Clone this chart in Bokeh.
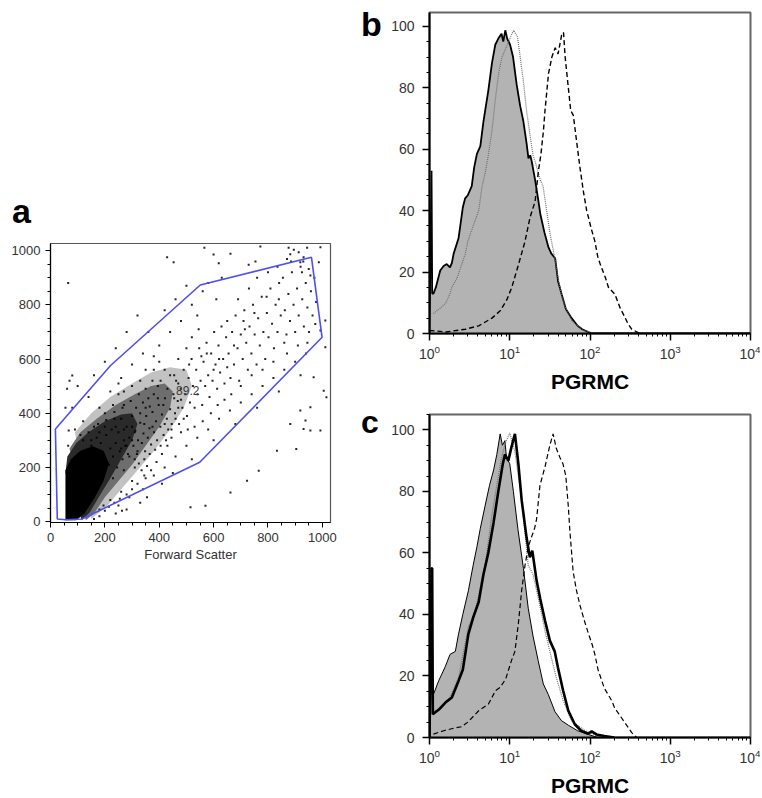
from bokeh.plotting import figure
from bokeh.layouts import row, column
from bokeh.models import Range1d, SingleIntervalTicker, FixedTicker, Label, Div
from bokeh.embed import file_html
from bokeh.resources import INLINE

FONT = "Liberation Sans"

# ---------------- Panel a: Forward scatter vs side scatter ----------------
a_tick_step = 200
gate_x = [18, 25, 55, 116, 549, 999, 960, 551, 221, 18]
gate_y = [342, 10, 7, 10, 219, 680, 975, 873, 576, 342]
gate_label = "89.2"
gate_label_pos = (505, 484)

# dense population (read as density outlines, darkest last)
light_x = [90, 150, 220, 300, 370, 440, 500, 520, 490, 440, 380, 320, 260, 210, 150]
light_y = [330, 400, 460, 510, 550, 570, 560, 500, 420, 340, 260, 190, 120, 60, 10]
mid_x = [70, 110, 170, 240, 310, 370, 420, 450, 440, 400, 350, 300, 250, 200, 160, 130]
mid_y = [270, 330, 380, 430, 470, 500, 510, 480, 420, 350, 280, 210, 150, 90, 30, 5]
dark_x = [55, 62, 95, 140, 200, 260, 300, 320, 300, 260, 220, 180, 145, 115]
dark_y = [180, 240, 290, 330, 370, 395, 400, 360, 300, 230, 160, 95, 35, 5]
core_x = [55, 55, 75, 110, 155, 195, 215, 195, 160, 125, 95]
core_y = [5, 190, 230, 262, 278, 262, 215, 150, 85, 30, 5]

pts_outside = [(65, 880), (429, 975), (453, 957), (566, 1010), (600, 985), (662, 988), (619, 953),
               (772, 1015), (876, 1010), (895, 1003), (913, 994), (882, 986), (944, 1010), (993, 1012),
               (729, 948), (754, 960), (870, 969), (919, 957), (931, 975), (987, 957), (950, 932),
               (956, 908), (925, 920), (974, 729), (993, 705), (1011, 742), (1011, 643), (1005, 483),
               (1015, 459), (968, 533), (956, 422), (938, 373), (931, 342), (904, 268), (993, 336),
               (956, 336), (263, 40), (355, 90), (515, 53), (570, 59), (662, 108), (723, 151),
               (766, 188), (833, 262), (882, 360), (919, 410), (80, 539), (61, 490), (67, 336)]
pts_band = [(305, 280), (312, 335), (318, 250), (322, 300), (330, 365), (336, 290), (342, 325),
            (348, 260), (352, 390), (358, 310), (364, 345), (370, 285), (375, 405), (381, 330),
            (388, 370), (392, 300), (398, 430), (404, 350), (410, 395), (416, 320), (421, 455),
            (428, 380), (433, 340), (440, 415), (446, 360), (452, 470), (300, 390), (315, 420),
            (340, 440), (360, 455), (380, 470), (395, 500), (325, 215), (345, 230), (365, 250),
            (385, 265), (405, 280), (425, 300), (445, 310), (280, 350), (270, 300), (290, 240),
            (310, 200), (260, 380), (335, 190), (355, 205)]
pts_mid = [(458, 400), (462, 520), (468, 445), (473, 360), (479, 490), (485, 420), (490, 560),
           (496, 470), (502, 390), (508, 530), (513, 440), (519, 600), (524, 500), (530, 420),
           (536, 560), (541, 470), (547, 640), (552, 520), (558, 430), (563, 590), (569, 500),
           (574, 660), (580, 540), (585, 460), (591, 620), (596, 520), (602, 700), (607, 580),
           (613, 490), (618, 650), (624, 550), (629, 720), (635, 600), (640, 510), (646, 680),
           (470, 600), (500, 640), (520, 680), (545, 710), (560, 370), (590, 400), (615, 430),
           (640, 450), (480, 330), (505, 340), (530, 350), (455, 540), (510, 580), (555, 610),
           (600, 560), (620, 600), (575, 620), (650, 570), (650, 740)]
pts_upper = [(655, 620), (662, 530), (668, 700), (675, 580), (681, 760), (688, 640), (694, 520),
             (700, 690), (707, 600), (713, 780), (720, 660), (726, 560), (732, 720), (739, 620),
             (745, 800), (751, 690), (758, 580), (764, 750), (770, 650), (777, 830), (783, 700),
             (790, 600), (796, 770), (802, 680), (809, 860), (815, 730), (822, 640), (828, 800),
             (835, 700), (841, 880), (847, 760), (665, 470), (700, 500), (740, 540), (780, 560),
             (820, 590), (690, 820), (730, 860), (760, 900), (800, 920), (835, 940), (710, 740),
             (750, 770), (795, 830), (840, 820), (860, 660), (675, 650), (715, 710)]
pts_far = [(855, 900), (862, 780), (868, 690), (875, 840), (881, 740), (888, 920), (894, 800),
           (900, 700), (907, 860), (913, 760), (920, 940), (926, 820), (932, 720), (939, 880),
           (945, 790), (951, 700), (958, 850), (964, 760), (971, 900), (977, 810), (870, 620),
           (910, 650), (945, 660), (885, 960), (930, 960)]
pts_left = [(80, 420), (100, 500), (120, 370), (140, 460), (160, 540), (180, 420), (200, 590),
            (220, 480), (240, 640), (260, 530), (280, 700), (300, 580), (320, 760), (340, 620),
            (360, 700), (380, 560), (400, 650), (420, 780), (440, 700), (460, 820), (480, 740),
            (500, 870), (520, 800), (540, 760), (560, 850), (580, 880), (610, 820), (630, 900),
            (160, 350), (200, 400), (230, 430), (250, 470), (270, 430), (150, 300), (110, 320),
            (90, 340), (65, 280), (55, 420), (70, 520)]
pts_lower = [(220, 80), (260, 110), (300, 150), (340, 120), (380, 170), (420, 200), (460, 240),
             (500, 280), (540, 310), (580, 340), (620, 380), (660, 410), (700, 440), (740, 470),
             (780, 500), (820, 530), (860, 560), (900, 590), (940, 620), (250, 60), (290, 90),
             (330, 70), (410, 140), (450, 180), (520, 230), (600, 300), (680, 360), (760, 420),
             (840, 480), (920, 540), (200, 40), (240, 30), (280, 45), (180, 20), (160, 10),
             (230, 160), (270, 190), (310, 230), (350, 160)]
pts_core = [(200, 180), (215, 210), (230, 240), (245, 200), (255, 260), (265, 230), (275, 280),
            (285, 250), (240, 290), (220, 270), (195, 250), (185, 290), (205, 320), (225, 340),
            (250, 330), (290, 310), (300, 350), (260, 270), (270, 340), (235, 380), (150, 280),
            (130, 260), (170, 310)]
pts_edge = [(120, 300), (140, 330), (175, 360), (205, 375), (235, 405), (265, 420), (295, 445),
            (325, 470), (350, 490), (375, 520), (405, 520), (430, 490), (455, 455), (470, 420),
            (460, 380), (445, 340), (430, 280), (410, 250), (390, 220), (370, 190), (345, 170),
            (320, 140), (300, 120), (280, 100), (255, 85), (235, 70), (215, 55), (195, 60),
            (180, 45), (310, 330), (330, 400), (350, 420), (300, 300), (280, 280), (320, 260),
            (200, 350), (180, 330), (240, 350), (415, 430), (395, 455), (365, 425), (345, 360),
            (375, 350), (420, 360), (480, 450), (490, 380), (470, 510), (440, 540), (420, 560),
            (400, 590), (380, 610), (350, 560), (330, 520), (300, 500), (270, 480), (250, 510)]

# ---------------- Panels b and c: PGRMC histograms ----------------
log_ticks = [1, 10, 100, 1000, 10000]

b_fill_x = [1.0, 1.06, 1.08, 1.12, 1.2, 1.36, 1.5, 1.64, 1.8, 1.9, 2.0, 2.3, 2.6, 2.78, 3.0, 3.36, 3.6,
            3.9, 4.3, 4.7, 5.4, 6.0, 6.6, 7.2, 7.9, 8.3, 8.8, 9.3, 10.1, 11.0, 12.2, 13.5, 14.8, 16.2,
            17.1, 18.0, 18.8, 20.7, 22.5, 24, 27, 30.4, 33, 36.8, 40, 44.6, 50, 59, 70, 80, 95, 105, 10000]
b_fill_y = [0, 53, 13, 13, 15, 20.5, 22, 22.6, 21.5, 23, 26, 31, 41, 44, 45, 48, 54, 58.5, 61, 69, 79,
            88, 94, 96, 97.6, 95, 98.7, 96, 94, 90, 81, 74, 69, 62, 57, 58, 56, 50, 44, 39, 33, 28, 26,
            24.5, 17, 12.5, 8, 5, 2.5, 1.4, 0.5, 0, 0]
b_dot_x = [1.12, 1.4, 1.6, 1.8, 1.9, 2.2, 2.8, 3.0, 3.5, 4.1, 4.5, 5.0, 5.4, 6.0, 6.6, 7.3, 8.0, 9.0,
           10.2, 11.2, 12.5, 13.5, 14.8, 16.3, 17.8, 19.5, 20.7, 24, 26, 28.8, 32, 36.8, 40, 44.6, 50,
           60, 70, 85, 100, 115]
b_dot_y = [6.5, 8.5, 10, 13, 15, 18, 26, 30, 35, 40, 47.6, 53, 58, 66, 76, 85, 90, 93, 96.5, 98.7,
           96.5, 90, 82, 72, 65, 58, 56, 50, 48, 40, 32, 24, 18, 12, 8, 4, 2.5, 1, 0.5, 0]
b_dash_x = [1.0, 1.6, 2.8, 4.1, 6.0, 7.6, 9.2, 10.6, 12.9, 15.5, 17.9, 20.7, 22.8, 24.5, 26.3, 27.5,
            30.4, 33.5, 36.8, 40, 44.6, 46.8, 49, 53.7, 57.5, 62, 68.5, 75, 83, 91, 104, 115, 125, 134,
            155, 170, 204, 240, 260, 300, 331, 398, 420]
b_dash_y = [1, 0.5, 1.4, 2.5, 5, 7.4, 11, 15, 22.6, 30, 37.8, 43, 53, 58.5, 66, 72.6, 84.6, 90, 93,
            91, 97.6, 98, 90, 80, 72.6, 71, 62, 54, 46, 40, 34, 30, 25, 22.6, 18.3, 15, 12.8, 8, 6.3,
            3, 1.4, 0.3, 0]

c_fill_x = [1.0, 1.06, 1.08, 1.12, 1.3, 1.57, 1.8, 2.1, 2.3, 2.6, 3.05, 3.5, 3.9, 4.3, 4.9, 5.6, 6.3,
            6.9, 7.6, 8.1, 8.7, 9.1, 10, 11.1, 12.6, 14.8, 17, 19.5, 22.6, 26.2, 30.2, 36.6, 44, 53.7,
            70, 95, 115, 125, 10000]
c_fill_y = [0, 25, 14, 14, 18.4, 23, 27, 28, 33.6, 40, 47.7, 56, 62, 68, 75, 82, 87, 92, 98.7, 95,
            96.5, 91, 89, 80, 68, 55, 42, 33, 25, 17.4, 14, 8.4, 5.5, 4, 2.2, 1, 0.3, 0, 0]
c_thick_x = [1.0, 1.06, 1.08, 1.1, 1.3, 1.6, 1.9, 2.3, 2.6, 3.05, 3.5, 4.1, 4.7, 5.4, 6.3, 7.2, 8.2,
             8.7, 9.6, 10.5, 11.6, 12.8, 14.1, 16.2, 17.8, 19.1, 21.6, 24, 27.5, 31.6, 36.3, 39.8,
             46.3, 53.7, 64.6, 77.6, 95, 105, 120, 151, 200]
c_thick_y = [0, 55, 55, 7.6, 9, 11.5, 13, 18.4, 22, 33.6, 39, 44, 53, 60, 70, 80, 89, 92, 90, 94.4,
             98.7, 89, 77, 65, 58.6, 60.7, 51, 45, 38, 31.5, 28, 22.8, 15.2, 8.7, 4.3, 2.2, 1.2, 2, 1,
             0.5, 0]
c_dot_x = [1.12, 1.4, 1.8, 2.3, 3.05, 3.6, 4.0, 5.0, 5.96, 6.9, 7.9, 8.9, 10, 11.6, 14.1, 17, 19.5,
           22.6, 27.5, 31.6, 38, 46.3, 58.9, 87, 126, 158]
c_dot_y = [8.5, 9.5, 13, 19.5, 36, 40, 45, 57, 72, 82, 91, 96, 99, 93, 77, 56, 53, 45.5, 34.7, 28,
           19.5, 12, 5.4, 2.2, 0.5, 0]
c_dash_x = [1.12, 1.5, 2.0, 2.5, 3.0, 4.1, 5.4, 6.0, 6.6, 7.6, 8.9, 10.5, 11.6, 12.8, 14.1, 15.5, 17,
            18.6, 20.4, 21.6, 23.8, 27.5, 31.6, 34.7, 38, 42.2, 46, 50, 53.7, 56.2, 61.6, 67.6, 75, 85,
            95, 107, 115, 126, 138, 151, 168, 186, 204, 224, 269, 331, 363, 380]
c_dash_y = [1.1, 2.2, 3, 3.5, 5, 8.7, 10.8, 13, 15.2, 16.3, 19, 25, 28, 37, 48, 56, 62, 65, 68, 71, 82,
            88, 95, 98.7, 94, 91, 89, 85, 75, 67, 54, 48, 43, 38, 34, 30, 27, 22, 19, 16, 14, 12, 9.5,
            8, 5, 1.6, 0.5, 0]


def style_axes(p, label_size):
    p.grid.visible = False
    for ax in (p.xaxis[0], p.yaxis[0]):
        ax.major_label_text_font = FONT
        ax.major_label_text_font_size = label_size
        ax.major_label_text_color = "#333333"
        ax.axis_line_color = "black"
        ax.major_tick_line_color = "black"
        ax.minor_tick_line_color = "black"
        ax.major_tick_in = 0
        ax.minor_tick_in = 0
        ax.axis_label_text_font = FONT
        ax.axis_label_text_font_style = "normal"


def letter_div(letter, w, size, margin):
    return Div(text=letter, width=w, height=size, margin=margin,
               styles={"font-family": FONT, "font-size": f"{size}px", "font-weight": "bold",
                       "line-height": f"{size}px", "color": "black"})


# ---- panel a figure
pa = figure(frame_width=280, frame_height=279, x_range=Range1d(0, 1030), y_range=Range1d(-3, 1026),
            output_backend="svg", toolbar_location=None,
            min_border_left=50, min_border_right=28, min_border_top=15, min_border_bottom=50)
style_axes(pa, "13px")
pa.outline_line_color = "#555555"
pa.outline_line_width = 1.2
pa.xaxis.ticker = SingleIntervalTicker(interval=a_tick_step, num_minor_ticks=4)
pa.yaxis.ticker = SingleIntervalTicker(interval=a_tick_step, num_minor_ticks=4)
for ax in (pa.xaxis[0], pa.yaxis[0]):
    ax.major_tick_out = 5
    ax.minor_tick_out = 3
    ax.axis_line_width = 1.2
    ax.major_label_standoff = 5
pa.xaxis.axis_label = "Forward Scatter"
pa.xaxis.axis_label_text_font_size = "13px"
pa.xaxis.axis_label_text_color = "#333333"
pa.xaxis.axis_label_standoff = 2

pa.patch(light_x, light_y, fill_color="#c2c2c2", line_color=None)
pa.patch(mid_x, mid_y, fill_color="#6e6e6e", line_color=None)
pa.patch(dark_x, dark_y, fill_color="#2a2a2a", line_color=None)
pa.patch(core_x, core_y, fill_color="black", line_color=None)
all_pts = (pts_outside + pts_band + pts_mid + pts_upper + pts_far + pts_left + pts_lower
           + pts_core + pts_edge)
pa.scatter([p[0] for p in all_pts], [p[1] for p in all_pts], marker="square", size=2,
           fill_color="black", line_color=None, fill_alpha=0.85)
pa.line(gate_x, gate_y, line_color="#4f4ff2", line_width=1.6)
pa.add_layout(Label(x=gate_label_pos[0], y=gate_label_pos[1], text=gate_label, text_font=FONT,
                    text_font_size="12px", text_color="#3a3a3a", text_align="center",
                    text_baseline="middle"))


def hist_fig(ymax, top, bottom, fh):
    p = figure(frame_width=321, frame_height=fh, x_axis_type="log", x_range=Range1d(1, 10000),
               y_range=Range1d(0, ymax), output_backend="svg", toolbar_location=None,
               min_border_left=43, min_border_right=10, min_border_top=top, min_border_bottom=bottom)
    style_axes(p, "14px")
    p.outline_line_color = "#666666"
    p.outline_line_width = 2
    minors = [m * d for d in (1, 10, 100, 1000) for m in range(2, 10)]
    p.xaxis.ticker = FixedTicker(ticks=log_ticks, minor_ticks=minors)
    p.yaxis.ticker = SingleIntervalTicker(interval=20, num_minor_ticks=4)
    for ax in (p.xaxis[0], p.yaxis[0]):
        ax.major_tick_out = 7
        ax.minor_tick_out = 3
        ax.axis_line_width = 2
        ax.major_tick_line_width = 1.5
    p.yaxis.major_label_standoff = 8
    p.xaxis.major_label_standoff = 4
    p.xaxis.axis_label = "PGRMC"
    p.xaxis.axis_label_text_font_size = "21px"
    p.xaxis.axis_label_text_font_style = "bold"
    p.xaxis.axis_label_text_color = "black"
    p.xaxis.axis_label_standoff = 8
    return p


pb = hist_fig(104.5, 12, 67, 321)
pb.varea(x=b_fill_x, y1=0, y2=b_fill_y, fill_color="#b3b3b3")
pb.line(b_fill_x, b_fill_y, line_color="black", line_width=1.8)
pb.line(b_dot_x, b_dot_y, line_color="#707070", line_width=1.2, line_dash="1 1")
pb.line(b_dash_x, b_dash_y, line_color="black", line_width=1.4, line_dash="5 3")

pc = hist_fig(105, 14, 61, 323)
pc.varea(x=c_fill_x, y1=0, y2=c_fill_y, fill_color="#b3b3b3")
pc.line(c_fill_x, c_fill_y, line_color="black", line_width=1)
pc.line(c_dot_x, c_dot_y, line_color="#707070", line_width=1.2, line_dash="1 1")
pc.line(c_thick_x, c_thick_y, line_color="black", line_width=2.6)
pc.line(c_dash_x, c_dash_y, line_color="black", line_width=1.2, line_dash="5 3")

da = letter_div("a", 345, 34, (194, 0, 0, 12))
db = letter_div("b", 25, 34, (7, 0, 0, 3))
dc = letter_div("c", 25, 32, (6, 0, 0, 3))

layout = row(column(da, pa), column(row(db, pb), row(dc, pc)))
open("out.html", "w").write(file_html(layout, INLINE))
